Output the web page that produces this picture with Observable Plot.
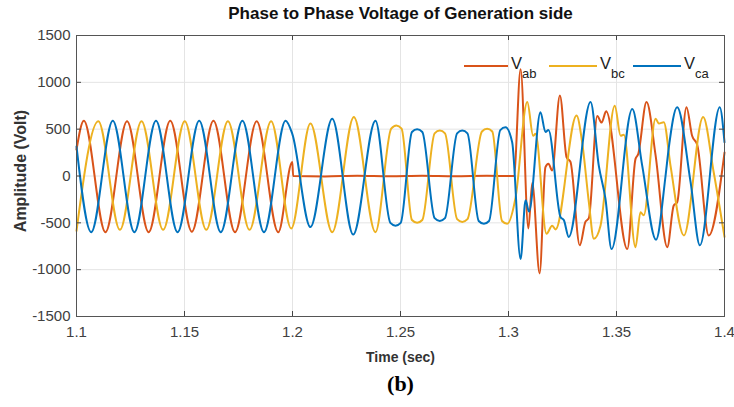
<!DOCTYPE html>
<html><head><meta charset="utf-8">
<script src="https://cdn.jsdelivr.net/npm/d3@7"></script>
<script src="https://cdn.jsdelivr.net/npm/@observablehq/plot@0.6"></script>
<style>
html,body{margin:0;padding:0;background:#fff;}
#wrap{position:relative;width:734px;height:407px;overflow:hidden;font-family:"Liberation Sans",Arial,sans-serif;}
.lg-line{position:absolute;height:2px;}
.lg-v{position:absolute;font-size:16.5px;color:#222;line-height:1;}
.lg-s{position:absolute;font-size:13px;color:#222;line-height:1;}
</style></head><body><div id="wrap"></div>
<script>
// ---- data ----
const seriesNames = ["Vab", "Vbc", "Vca"];
const seriesColors = ["#D95319", "#EDB120", "#0072BD"];
const legendSubs = ["ab", "bc", "ca"];
const xTicks = [1.1, 1.15, 1.2, 1.25, 1.3, 1.35, 1.4];
const yTicks = [-1500, -1000, -500, 0, 500, 1000, 1500];
const titleText = "Phase to Phase Voltage of Generation side";
const xLabelText = "Time (sec)";
const yLabelText = "Amplitude (Volt)";
const captionText = "(b)";

const tAB = [1.1, 1.1034, 1.1134, 1.1234, 1.1334, 1.1434, 1.1534, 1.1634, 1.1734, 1.1834, 1.1934, 1.1999, 1.2003,
  1.215, 1.23, 1.245, 1.26, 1.275, 1.29, 1.3025, 1.3056, 1.3092, 1.3110, 1.3144, 1.3171, 1.3185, 1.3202, 1.3238,
  1.3269, 1.3287, 1.3330, 1.3356, 1.3372, 1.3411, 1.3431, 1.3452, 1.3550, 1.3588, 1.3600, 1.3639, 1.3681, 1.3735,
  1.3765, 1.3781, 1.3824, 1.3850, 1.3874, 1.3927, 1.4];
const vAB = [280, 590, -600, 585, -600, 590, -595, 590, -600, 585, -600, 150, 0,
  -4, 2, -3, 3, -2, 2, 0, 1140, -560, -75, -1040, 95, 130, 60, 860,
  200, 150, -740, -490, -450, 640, 570, 690, -780, 183, 230, 790, 220, -760,
  -315, -280, 735, 430, 330, -635, 250];

const tBC = [1.1, 1.1101, 1.1201, 1.1301, 1.1401, 1.1501, 1.1601, 1.1701, 1.1801, 1.1901, 1.1994, 1.2083, 1.2184,
  1.2284, 1.2384, 1.2457, 1.2481, 1.2505, 1.2553, 1.2577, 1.2601, 1.2658, 1.2682, 1.2706, 1.2762, 1.2786, 1.2810,
  1.2877, 1.2901, 1.2925, 1.2970, 1.2994, 1.3032, 1.3087, 1.3114, 1.3125, 1.3176, 1.3202,
  1.3218, 1.3315, 1.3341, 1.3372, 1.3395, 1.3426, 1.3492, 1.3519, 1.3534, 1.3588, 1.3611, 1.3626, 1.3681, 1.3696,
  1.3719, 1.375, 1.3812, 1.3901, 1.395, 1.4];
const vBC = [-585, 585, -575, 585, -575, 585, -575, 585, -575, 585, -560, 560, -600,
  630, -600, 505, 540, 505, -470, -500, -470, 455, 485, 455, -460, -490, -460,
  475, 505, 475, -480, -510, -240, 790, 430, 450, -617, -530,
  -570, 645, 360, -280, -670, -530, 750, 430, 440, -760, -386, -420, 610, 560,
  575, 110, -635, 630, 40, -650];

const tCA = [1.1, 1.1068, 1.1168, 1.1268, 1.1368, 1.1468, 1.1568, 1.1668, 1.1768, 1.1868, 1.1968, 1.1999, 1.2083,
  1.2184, 1.2281, 1.2384, 1.2453, 1.2477, 1.2501, 1.2553, 1.2577, 1.2601, 1.2658, 1.2682, 1.2706, 1.2762, 1.2786,
  1.2810, 1.2862, 1.2886, 1.2910, 1.2962, 1.2986, 1.3017, 1.3056, 1.3079, 1.3095, 1.3148,
  1.3171, 1.3185, 1.3241, 1.3256, 1.3279, 1.3380, 1.3418, 1.3449, 1.3477, 1.3573, 1.3619, 1.3683, 1.3727, 1.3742,
  1.3781, 1.3843, 1.3886, 1.3978, 1.4];
const vCA = [316, -600, 590, -600, 590, -600, 590, -600, 590, -600, 590, 450, -545,
  610, -625, 590, -500, -530, -500, 470, 500, 470, -450, -480, -450, 455, 485,
  455, -480, -510, -480, 490, 520, 360, -885, -260, -380, 680,
  470, 490, -440, -470, -650, 790, 110, -245, -780, 715, 110, -680, 0, 300,
  735, -66, -740, 735, 360];

// ---- build table ----
const data = [];
[[tAB, vAB], [tBC, vBC], [tCA, vCA]].forEach(([ts, vs], i) =>
  ts.forEach((t, j) => data.push({series: seriesNames[i], t, v: vs[j]})));

const W = 734, H = 407, mL = 76, mR = 10, mT = 35, mB = 91;
const fw = W - mL - mR, fh = H - mT - mB;
const font = "'Liberation Sans', Arial, sans-serif";

const chart = Plot.plot({
  width: W, height: H, marginLeft: mL, marginRight: mR, marginTop: mT, marginBottom: mB,
  style: {fontFamily: font, fontSize: "15px", color: "#404040", background: "#fff"},
  x: {domain: [1.1, 1.4], ticks: xTicks, tickFormat: d => String(+d.toFixed(2)), tickSize: 0, tickPadding: 10, label: null},
  y: {domain: [-1500, 1500], ticks: yTicks, tickFormat: d => String(d), tickSize: 0, tickPadding: 6, label: null},
  color: {domain: seriesNames, range: seriesColors},
  marks: [
    Plot.ruleX(xTicks, {x: d => d, stroke: "#e4e4e4", strokeWidth: 1}),
    Plot.ruleY(yTicks, {y: d => d, stroke: "#e4e4e4", strokeWidth: 1}),
    Plot.line(data, {x: "t", y: "v", z: "series", stroke: "series", strokeWidth: 2, curve: "monotone-x"}),
    Plot.ruleX(xTicks, {x: d => d, insetBottom: fh - 5, stroke: "#444"}),
    Plot.ruleX(xTicks, {x: d => d, insetTop: fh - 5, stroke: "#444"}),
    Plot.ruleY(yTicks, {y: d => d, insetRight: fw - 5, stroke: "#444"}),
    Plot.ruleY(yTicks, {y: d => d, insetLeft: fw - 5, stroke: "#444"}),
    Plot.frame({stroke: "#555"}),
    Plot.text([titleText], {text: d => d, frameAnchor: "top", textAnchor: "middle", lineAnchor: "middle", dy: -22, fontSize: 17, fontWeight: "bold", fill: "#111"}),
    Plot.text([xLabelText], {text: d => d, frameAnchor: "bottom", textAnchor: "middle", lineAnchor: "middle", dy: 41, fontSize: 14, fontWeight: "bold", fill: "#333"}),
    Plot.text([yLabelText], {text: d => d, frameAnchor: "left", textAnchor: "middle", lineAnchor: "middle", dx: -56, dy: -5, rotate: -90, fontSize: 16, fontWeight: "bold", fill: "#333"}),
    Plot.text([captionText], {text: d => d, frameAnchor: "bottom", textAnchor: "middle", lineAnchor: "middle", dy: 67, fontSize: 22, fontWeight: "bold", fontFamily: "'Liberation Serif', 'Times New Roman', serif", fill: "#000"})
  ]
});
const wrap = document.getElementById("wrap");
wrap.appendChild(chart);

// ---- legend (inside the axes, top right) ----
const legLineX = [464, 549, 633], legLineW = [44, 48, 48];
seriesNames.forEach((s, i) => {
  const ln = document.createElement("div");
  ln.className = "lg-line";
  ln.style.left = legLineX[i] + "px"; ln.style.top = "65px"; ln.style.width = legLineW[i] + "px";
  ln.style.background = seriesColors[i];
  wrap.appendChild(ln);
  const v = document.createElement("div");
  v.className = "lg-v"; v.textContent = "V";
  v.style.left = (legLineX[i] + legLineW[i] + 3) + "px"; v.style.top = "55px";
  wrap.appendChild(v);
  const sb = document.createElement("div");
  sb.className = "lg-s"; sb.textContent = legendSubs[i];
  sb.style.left = (legLineX[i] + legLineW[i] + 14) + "px"; sb.style.top = "67px";
  wrap.appendChild(sb);
});
</script></body></html>
